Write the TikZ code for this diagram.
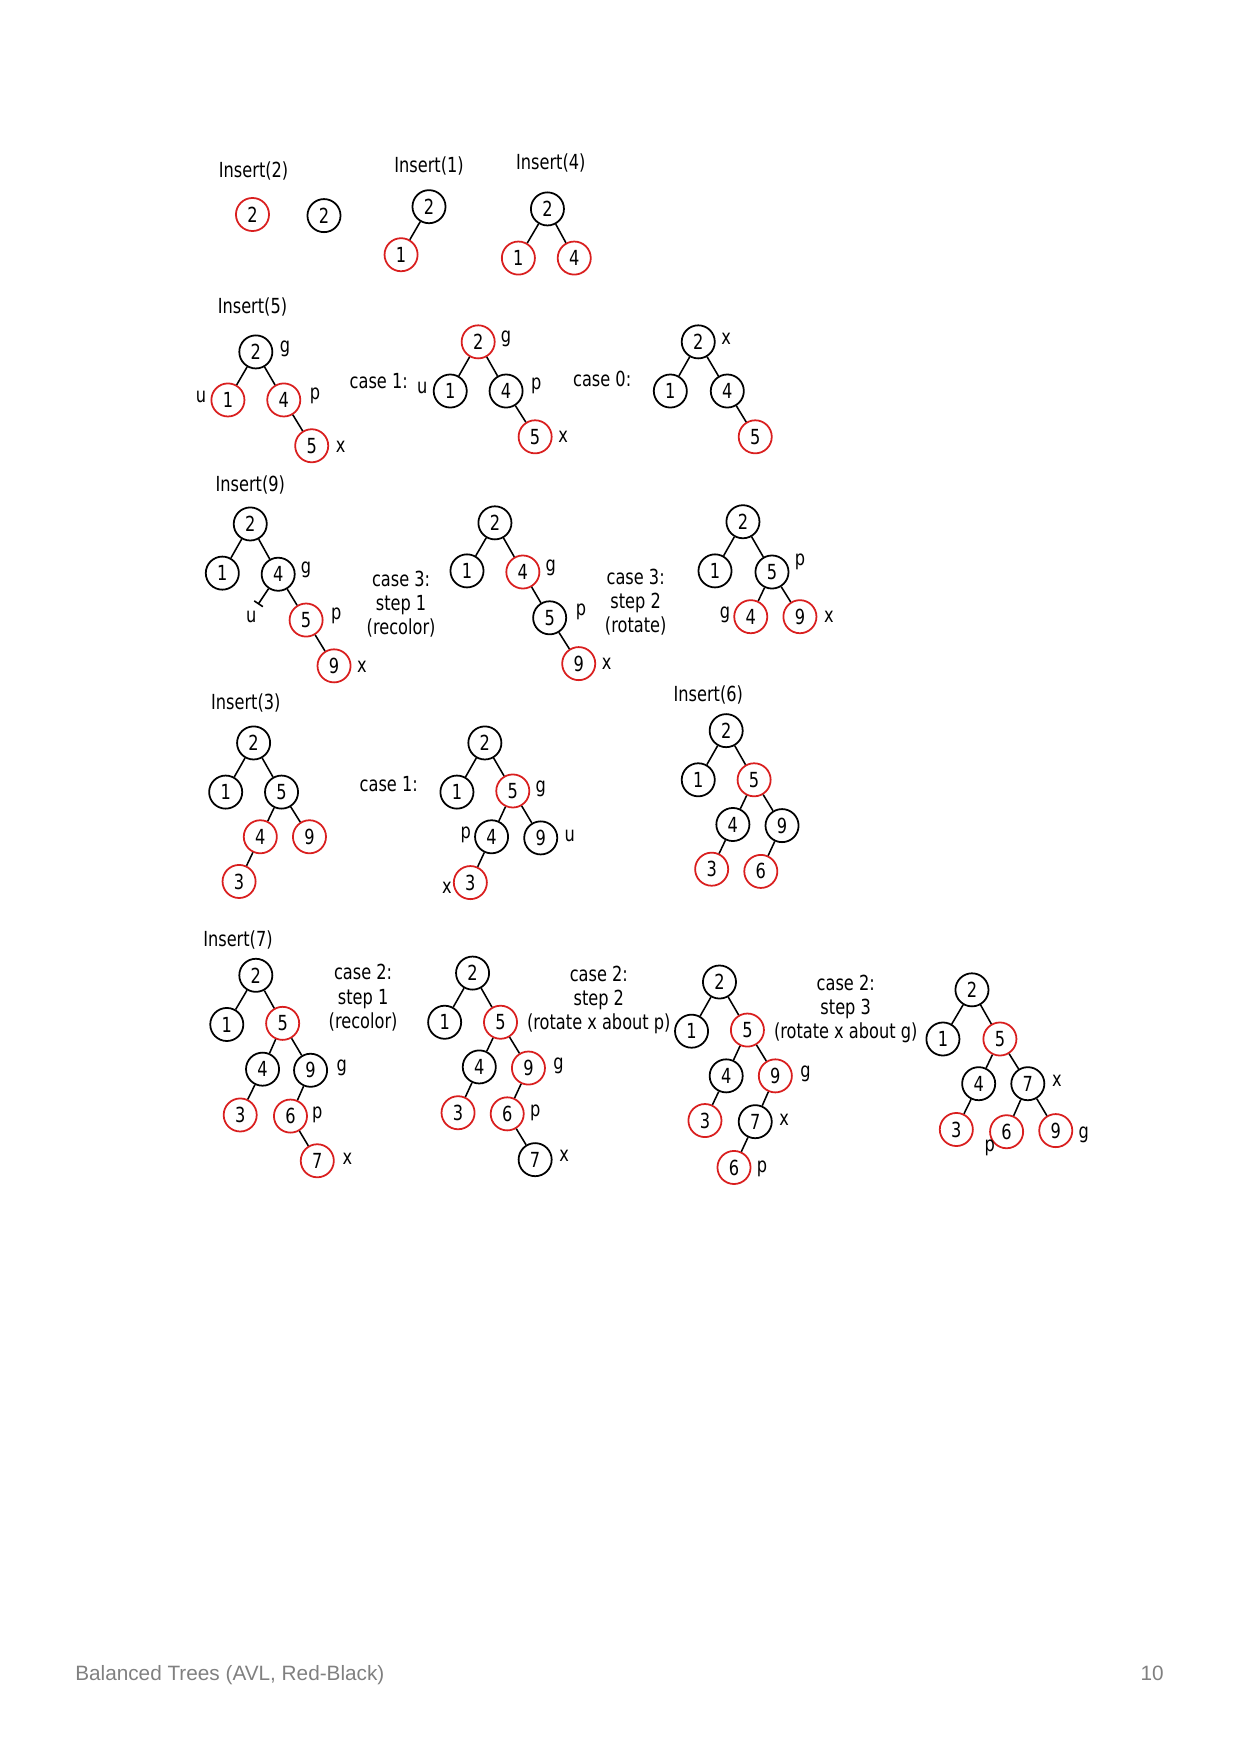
\documentclass[tikz,border=0pt]{standalone}
\usepackage{fontspec}
\setmainfont{DejaVu Sans}[FakeStretch=0.78]
\newfontfamily\footfont{Liberation Sans}
\usetikzlibrary{arrows.meta}
\definecolor{nodered}{rgb}{0.85,0.12,0.12}
\definecolor{footgray}{rgb}{0.5,0.5,0.5}

\begin{document}
\begin{tikzpicture}[x=0.18919mm,y=-0.18919mm,
    font=\fontsize{10}{11.6}\selectfont,
    bnode/.style={shape=circle,draw=black,line width=0.85pt,minimum size=5.6mm,inner sep=0pt},
    rnode/.style={shape=circle,draw=nodered,line width=0.85pt,minimum size=5.6mm,inner sep=0pt},
    lbl/.style={inner sep=0pt},
    note/.style={align=center,inner sep=0pt},
    every edge/.style={draw,line width=0.75pt}]
    \useasboundingbox (0,0) rectangle (1110,1570);

    % Insert(2)
    \node[note](t2) at (227,153) {Insert(2)};
    \node[rnode](A2) at (226,192) {2};
    \node[bnode](B2) at (290,193) {2};
    % Insert(1)
    \node[note](t1) at (384,149) {Insert(1)};
    \node[bnode](C2) at (384,185) {2};
    \node[rnode](C1) at (359,228) {1};
    \path (C2) edge (C1);
    % Insert(4)
    \node[note](t4) at (493,146) {Insert(4)};
    \node[bnode](D2) at (490,187) {2};
    \node[rnode](D1) at (464,231) {1};
    \node[rnode](D4) at (514,231) {4};
    \path (D2) edge (D1) (D2) edge (D4);

    % Insert(5)
    \node[note](t5) at (226,275) {Insert(5)};
    \node[bnode](E2) at (229,315) {2};
    \node[rnode](E1) at (204,358) {1};
    \node[rnode](E4) at (254,358) {4};
    \node[rnode](E5) at (279,399) {5};
    \node[lbl](Eg) at (255,312) {g};
    \node[lbl](Eu) at (180,355) {u};
    \node[lbl](Ep) at (282,354) {p};
    \node[lbl](Ex) at (305,400) {x};
    \path (E2) edge (E1) (E2) edge (E4) (E4) edge (E5);
    \node[note](c1a) at (339,341) {case 1:};
    \node[rnode](F2) at (428,306) {2};
    \node[bnode](F1) at (403,350) {1};
    \node[bnode](F4) at (453,350) {4};
    \node[rnode](F5) at (479,391) {5};
    \node[lbl](Fg) at (453,303) {g};
    \node[lbl](Fu) at (378,347) {u};
    \node[lbl](Fp) at (480,345) {p};
    \node[lbl](Fx) at (504,391) {x};
    \path (F2) edge (F1) (F2) edge (F4) (F4) edge (F5);
    \node[note](c0) at (539,339) {case 0:};
    \node[bnode](G2) at (625,306) {2};
    \node[bnode](G1) at (600,350) {1};
    \node[bnode](G4) at (651,350) {4};
    \node[rnode](G5) at (676,391) {5};
    \node[lbl](Gx) at (650,303) {x};
    \path (G2) edge (G1) (G2) edge (G4) (G4) edge (G5);

    % Insert(9)
    \node[note](t9) at (224,434) {Insert(9)};
    \node[bnode](H2) at (224,469) {2};
    \node[bnode](H1) at (199,513) {1};
    \node[bnode](H4) at (249,514) {4};
    \node[rnode](H5) at (274,555) {5};
    \node[rnode](H9) at (299,596) {9};
    \coordinate (Hn) at (231,541);
    \node[lbl](Hu) at (225,552) {u};
    \node[lbl](Hg) at (274,510) {g};
    \node[lbl](Hp) at (301,551) {p};
    \node[lbl](Hx) at (324,597) {x};
    \path (H2) edge (H1) (H2) edge (H4) (H4) edge (H5) (H5) edge (H9);
    \draw[line width=0.75pt,-{Bar[width=5pt,line width=0.75pt]}] (H4) -- (Hn);
    \node[note](c3a) at (359,541) {case 3:\\step 1\\(recolor)};
    \node[bnode](I2) at (443,468) {2};
    \node[bnode](I1) at (418,511) {1};
    \node[rnode](I4) at (468,512) {4};
    \node[bnode](I5) at (492,553) {5};
    \node[rnode](I9) at (518,594) {9};
    \node[lbl](Ig) at (493,508) {g};
    \node[lbl](Ip) at (520,548) {p};
    \node[lbl](Ix) at (543,594) {x};
    \path (I2) edge (I1) (I2) edge (I4) (I4) edge (I5) (I5) edge (I9);
    \node[note](c3b) at (569,539) {case 3:\\step 2\\(rotate)};
    \node[bnode](J2) at (665,467) {2};
    \node[bnode](J1) at (640,511) {1};
    \node[bnode](J5) at (691,512) {5};
    \node[rnode](J4) at (672,552) {4};
    \node[rnode](J9) at (716,552) {9};
    \node[lbl](Jp) at (716,503) {p};
    \node[lbl](Jg) at (649,550) {g};
    \node[lbl](Jx) at (742,552) {x};
    \path (J2) edge (J1) (J2) edge (J5) (J5) edge (J4) (J5) edge (J9);

    % Insert(3)
    \node[note](t3) at (220,629) {Insert(3)};
    \node[bnode](K2) at (227,665) {2};
    \node[bnode](K1) at (202,709) {1};
    \node[bnode](K5) at (252,709) {5};
    \node[rnode](K4) at (233,749) {4};
    \node[rnode](K9) at (277,749) {9};
    \node[rnode](K3) at (214,789) {3};
    \path (K2) edge (K1) (K2) edge (K5) (K5) edge (K4) (K5) edge (K9) (K4) edge (K3);
    \node[note](c1b) at (348,702) {case 1:};
    \node[bnode](L2) at (434,665) {2};
    \node[bnode](L1) at (409,709) {1};
    \node[rnode](L5) at (459,708) {5};
    \node[bnode](L4) at (440,749) {4};
    \node[bnode](L9) at (484,750) {9};
    \node[rnode](L3) at (421,790) {3};
    \node[lbl](Lg) at (484,706) {g};
    \node[lbl](Lp) at (417,747) {p};
    \node[lbl](Lu) at (510,748) {u};
    \node[lbl](Lx) at (400,795) {x};
    \path (L2) edge (L1) (L2) edge (L5) (L5) edge (L4) (L5) edge (L9) (L4) edge (L3);
    % Insert(6)
    \node[note](t6) at (634,622) {Insert(6)};
    \node[bnode](M2) at (650,654) {2};
    \node[bnode](M1) at (625,698) {1};
    \node[rnode](M5) at (675,698) {5};
    \node[bnode](M4) at (656,738) {4};
    \node[bnode](M9) at (700,739) {9};
    \node[rnode](M3) at (637,778) {3};
    \node[rnode](M6) at (681,780) {6};
    \path (M2) edge (M1) (M2) edge (M5) (M5) edge (M4) (M5) edge (M9) (M4) edge (M3) (M9) edge (M6);

    % Insert(7)
    \node[note](t7) at (213,841) {Insert(7)};
    \node[bnode](N2) at (229,873) {2};
    \node[bnode](N1) at (203,917) {1};
    \node[rnode](N5) at (253,916) {5};
    \node[bnode](N4) at (235,957) {4};
    \node[bnode](N9) at (278,958) {9};
    \node[rnode](N3) at (215,998) {3};
    \node[rnode](N6) at (260,999) {6};
    \node[rnode](N7) at (284,1039) {7};
    \node[lbl](Ng) at (306,956) {g};
    \node[lbl](Np) at (284,998) {p};
    \node[lbl](Nx) at (311,1037) {x};
    \path (N2) edge (N1) (N2) edge (N5) (N5) edge (N4) (N5) edge (N9)
          (N4) edge (N3) (N9) edge (N6) (N6) edge (N7);
    \node[note](c2a) at (325,893) {case 2:\\step 1\\(recolor)};
    \node[bnode](O2) at (423,871) {2};
    \node[bnode](O1) at (398,915) {1};
    \node[rnode](O5) at (448,915) {5};
    \node[bnode](O4) at (429,955) {4};
    \node[rnode](O9) at (473,956) {9};
    \node[rnode](O3) at (410,996) {3};
    \node[rnode](O6) at (454,997) {6};
    \node[bnode](O7) at (479,1038) {7};
    \node[lbl](Og) at (500,954) {g};
    \node[lbl](Op) at (479,996) {p};
    \node[lbl](Ox) at (505,1035) {x};
    \path (O2) edge (O1) (O2) edge (O5) (O5) edge (O4) (O5) edge (O9)
          (O4) edge (O3) (O9) edge (O6) (O6) edge (O7);
    \node[note](c2b) at (536,895) {case 2:\\step 2\\(rotate x about p)};
    \node[bnode](P2) at (644,879) {2};
    \node[bnode](P1) at (619,923) {1};
    \node[rnode](P5) at (669,922) {5};
    \node[bnode](P4) at (650,963) {4};
    \node[rnode](P9) at (694,963) {9};
    \node[rnode](P3) at (631,1003) {3};
    \node[bnode](P7) at (676,1004) {7};
    \node[rnode](P6) at (657,1045) {6};
    \node[lbl](Pg) at (721,961) {g};
    \node[lbl](Px) at (702,1002) {x};
    \node[lbl](Pp) at (682,1046) {p};
    \path (P2) edge (P1) (P2) edge (P5) (P5) edge (P4) (P5) edge (P9)
          (P4) edge (P3) (P9) edge (P7) (P7) edge (P6);
    \node[note](c2c) at (757,903) {case 2:\\step 3\\(rotate x about g)};
    \node[bnode](Q2) at (870,886) {2};
    \node[bnode](Q1) at (844,930) {1};
    \node[rnode](Q5) at (895,930) {5};
    \node[bnode](Q4) at (876,970) {4};
    \node[bnode](Q7) at (920,970) {7};
    \node[rnode](Q3) at (856,1011) {3};
    \node[rnode](Q6) at (901,1013) {6};
    \node[rnode](Q9) at (945,1012) {9};
    \node[lbl](Qx) at (946,967) {x};
    \node[lbl](Qp) at (886,1027) {p};
    \node[lbl](Qg) at (970,1016) {g};
    \path (Q2) edge (Q1) (Q2) edge (Q5) (Q5) edge (Q4) (Q5) edge (Q7)
          (Q4) edge (Q3) (Q7) edge (Q6) (Q7) edge (Q9);

    % footer
    \node[anchor=base west,inner sep=0pt,text=footgray,font=\footfont\fontsize{10}{12}\selectfont](foot) at (67,1504) {Balanced Trees (AVL, Red-Black)};
    \node[anchor=base east,inner sep=0pt,text=footgray,font=\footfont\fontsize{10}{12}\selectfont](page) at (1042,1504) {10};
\end{tikzpicture}
\end{document}
